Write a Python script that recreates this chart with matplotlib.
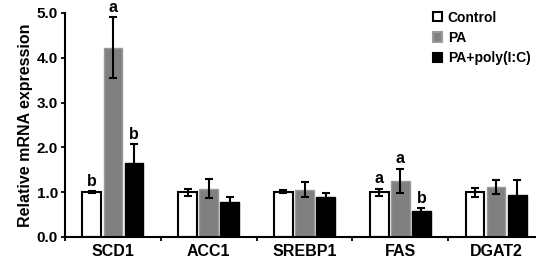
import numpy as np
import matplotlib
matplotlib.use('Agg')
import matplotlib.pyplot as plt
from matplotlib.patches import Patch

plt.rcParams['font.family'] = ['Liberation Sans', 'DejaVu Sans']
plt.rcParams['font.weight'] = 'bold'

genes = ['SCD1', 'ACC1', 'SREBP1', 'FAS', 'DGAT2']
groups = ['Control', 'PA', 'PA+poly(I:C)']

control = [1.00, 1.00, 1.01, 1.00, 1.00]
control_err = [0.02, 0.08, 0.03, 0.08, 0.10]
pa = [4.22, 1.08, 1.06, 1.25, 1.11]
pa_err = [0.68, 0.22, 0.16, 0.27, 0.16]
polyic = [1.65, 0.78, 0.89, 0.58, 0.94]
polyic_err = [0.42, 0.12, 0.10, 0.06, 0.33]

letters_control = ['b', '', '', 'a', '']
letters_pa = ['a', '', '', 'a', '']
letters_polyic = ['b', '', '', 'b', '']

fig = plt.figure(figsize=(5.36, 2.62), dpi=100)
ax = fig.add_axes([65/536, 25/262, 479/536, 224/262])

x = np.arange(len(genes))
w = 0.195
step = 0.22
series = [
    (control, control_err, letters_control, dict(color='white', edgecolor='black', linewidth=1.5)),
    (pa, pa_err, letters_pa, dict(color='#808080', edgecolor='#9a9a9a', linewidth=1.0)),
    (polyic, polyic_err, letters_polyic, dict(color='black', edgecolor='black', linewidth=1.0)),
]
handles = []
for i, (vals, errs, lets, style) in enumerate(series):
    pos = x + (i - 1) * step
    ax.bar(pos, vals, width=w, zorder=2, **style)
    ax.errorbar(pos, vals, yerr=errs, fmt='none', ecolor='black',
                elinewidth=1.5, capsize=3, capthick=1.5, zorder=3)
    for p, v, e, t in zip(pos, vals, errs, lets):
        if t:
            ax.text(p, v + e + 0.06, t, ha='center', va='bottom',
                    fontsize=11.5, fontweight='bold')
    handles.append(Patch(facecolor=style['color'], edgecolor=style['edgecolor'],
                         linewidth=1.5, label=groups[i]))

ax.set_xlim(-0.5, len(genes) - 0.5)
ax.set_ylim(0, 5.0)
ax.set_yticks(np.arange(0, 5.01, 1.0))
ax.set_yticklabels([f'{v:.1f}' for v in np.arange(0, 5.01, 1.0)], fontsize=11, fontweight='bold')
ax.set_xticks(np.arange(-0.5, len(genes), 1.0))
ax.set_xticklabels([])
ax.set_xticks(x, minor=True)
ax.set_xticklabels(genes, minor=True, fontsize=11.5, fontweight='bold')
ax.tick_params(axis='x', which='minor', length=0, pad=5)
ax.tick_params(axis='x', which='major', length=3, width=1.3, direction='out')
ax.tick_params(axis='y', length=3, width=1.3, direction='out', pad=2)

ax.spines['top'].set_visible(False)
ax.spines['right'].set_visible(False)
ax.spines['left'].set_linewidth(1.5)
ax.spines['bottom'].set_linewidth(1.5)

ax.set_ylabel('Relative mRNA expression', fontsize=11.5, fontweight='bold', labelpad=3)

leg = ax.legend(handles=handles, loc='upper left', bbox_to_anchor=(0.757, 1.035),
                frameon=False, fontsize=10, handlelength=0.65, handleheight=0.65,
                handletextpad=0.4, labelspacing=0.45, borderaxespad=0)
for t in leg.get_texts():
    t.set_fontweight('bold')

plt.savefig('out.png', dpi=100)
